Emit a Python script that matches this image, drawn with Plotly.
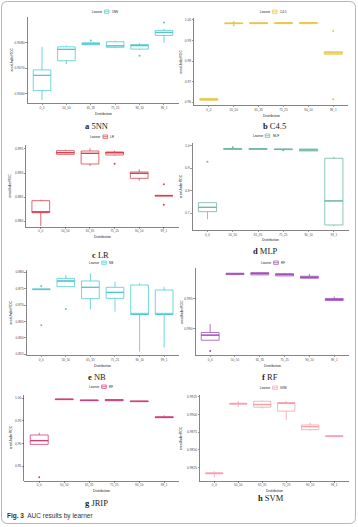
import plotly.graph_objects as go

W, H = 358, 527
CATS = ["0_0", "50_50", "65_35", "75_25", "90_10", "99_1"]

# ---------------- data (box statistics per distribution) ----------------
knn_lo  = [0.90574, 0.90716, 0.90792, 0.90778, 0.90771, 0.90800]
knn_q1  = [0.90611, 0.90729, 0.90792, 0.90782, 0.90775, 0.90829]
knn_med = [0.90671, 0.90774, 0.90796, 0.90788, 0.90789, 0.90841]
knn_q3  = [0.90693, 0.90784, 0.90800, 0.90804, 0.90793, 0.90849]
knn_hi  = [0.90784, 0.90789, 0.90800, 0.90808, 0.90799, 0.90855]
knn_out_x = ["65_35", "90_10", "99_1"]
knn_out_y = [0.90809, 0.90749, 0.90880]

c45_lo  = [0.96097, 0.99822, 0.99822, 0.99822, 0.99822, 0.98332]
c45_q1  = [0.96097, 0.99822, 0.99822, 0.99822, 0.99822, 0.98332]
c45_med = [0.96146, 0.99838, 0.99838, 0.99846, 0.99854, 0.98397]
c45_q3  = [0.96194, 0.99854, 0.99870, 0.99870, 0.99870, 0.98462]
c45_hi  = [0.96194, 0.99854, 0.99870, 0.99870, 0.99870, 0.98462]
c45_out_x = ["50_50", "50_50", "99_1", "99_1"]
c45_out_y = [0.99741, 0.99887, 0.99466, 0.96146]

lr_lo  = [0.87896, 0.89375, 0.89146, 0.89361, 0.88840, 0.88521]
lr_q1  = [0.88174, 0.89389, 0.89188, 0.89375, 0.88889, 0.88521]
lr_med = [0.88188, 0.89424, 0.89410, 0.89424, 0.88993, 0.88528]
lr_q3  = [0.88424, 0.89465, 0.89458, 0.89438, 0.89021, 0.88535]
lr_hi  = [0.88444, 0.89486, 0.89514, 0.89465, 0.89076, 0.88535]
lr_out_x = ["75_25", "99_1", "99_1"]
lr_out_y = [0.89194, 0.88764, 0.88340]

mlp_lo  = [0.6734, 0.9836, 0.9836, 0.9821, 0.9762, 0.6439]
mlp_q1  = [0.7074, 0.9836, 0.9836, 0.9821, 0.9762, 0.6483]
mlp_med = [0.7266, 0.9851, 0.9851, 0.9836, 0.9806, 0.7547]
mlp_q3  = [0.7473, 0.9866, 0.9866, 0.9851, 0.9851, 0.9437]
mlp_hi  = [0.7473, 0.9866, 0.9866, 0.9851, 0.9851, 0.9511]
mlp_out_x = ["0_0", "50_50", "75_25"]
mlp_out_y = [0.9290, 0.9925, 0.9792]

nb_lo  = [0.87472, 0.87563, 0.86872, 0.86801, 0.85581, 0.85713]
nb_q1  = [0.87472, 0.87563, 0.87197, 0.87207, 0.86720, 0.86720]
nb_med = [0.87482, 0.87736, 0.87543, 0.87390, 0.86720, 0.86720]
nb_q3  = [0.87492, 0.87817, 0.87736, 0.87543, 0.87614, 0.87461]
nb_hi  = [0.87492, 0.87919, 0.87970, 0.87715, 0.87665, 0.87563]
nb_out_x = ["0_0", "0_0", "50_50"]
nb_out_y = [0.87583, 0.86384, 0.86882]

rf_lo  = [0.98811, 0.99894, 0.99889, 0.99872, 0.99833, 0.99467]
rf_q1  = [0.98811, 0.99894, 0.99889, 0.99872, 0.99833, 0.99467]
rf_med = [0.98894, 0.99906, 0.99911, 0.99894, 0.99850, 0.99483]
rf_q3  = [0.98939, 0.99917, 0.99928, 0.99911, 0.99867, 0.99500]
rf_hi  = [0.99078, 0.99917, 0.99928, 0.99922, 0.99906, 0.99533]
rf_out_x = ["0_0"]
rf_out_y = [0.98633]

jrip_lo  = [0.89801, 0.99697, 0.99476, 0.99476, 0.99254, 0.95709]
jrip_q1  = [0.89801, 0.99697, 0.99476, 0.99476, 0.99254, 0.95709]
jrip_med = [0.90613, 0.99771, 0.99549, 0.99623, 0.99328, 0.95783]
jrip_q3  = [0.91869, 0.99845, 0.99623, 0.99697, 0.99402, 0.95931]
jrip_hi  = [0.92386, 0.99845, 0.99623, 0.99697, 0.99402, 0.96226]
jrip_out_x = ["0_0"]
jrip_out_y = [0.82489]

svm_lo  = [0.98110, 0.99110, 0.99086, 0.98923, 0.98773, 0.98689]
svm_q1  = [0.98161, 0.99147, 0.99105, 0.99049, 0.98787, 0.98689]
svm_med = [0.98166, 0.99157, 0.99143, 0.99161, 0.98829, 0.98694]
svm_q3  = [0.98175, 0.99161, 0.99189, 0.99171, 0.98853, 0.98699]
svm_hi  = [0.98199, 0.99194, 0.99199, 0.99194, 0.98886, 0.98699]
svm_out_x = []
svm_out_y = []

# ---------------- layout config per panel ----------------
panels = [
    dict(legend="5NN", letter="a", cap="5NN", color="#4FC9CF",
         stats=(knn_lo, knn_q1, knn_med, knn_q3, knn_hi), out=(knn_out_x, knn_out_y),
         xpx=(27.4, 178.6), ypx=(16.7, 103.3), yr=(0.90561, 0.90903),
         ticks=[0.906, 0.907, 0.908], fmt=".4f", capxy=(96, 126), legxy=(106.7, 11.7), ytx=11.5),
    dict(legend="C4.5", letter="b", cap="C4.5", color="#E8C547",
         stats=(c45_lo, c45_q1, c45_med, c45_q3, c45_hi), out=(c45_out_x, c45_out_y),
         xpx=(193.9, 348.2), ypx=(18.3, 105.0), yr=(0.95870, 1.00081),
         ticks=[0.96, 0.97, 0.98, 0.99, 1.00], fmt=".2f", capxy=(274, 126), legxy=(274.7, 11.7), ytx=181),
    dict(legend="LR", letter="c", cap="LR", color="#D8424C",
         stats=(lr_lo, lr_q1, lr_med, lr_q3, lr_hi), out=(lr_out_x, lr_out_y),
         xpx=(26.0, 178.6), ypx=(145.0, 226.7), yr=(0.87882, 0.89583),
         ticks=[0.880, 0.885, 0.890, 0.895], fmt=".3f", capxy=(100, 255), legxy=(105.3, 136.7), ytx=10),
    dict(legend="MLP", letter="d", cap="MLP", color="#72B8A2",
         stats=(mlp_lo, mlp_q1, mlp_med, mlp_q3, mlp_hi), out=(mlp_out_x, mlp_out_y),
         xpx=(192.3, 349.0), ypx=(143.3, 230.0), yr=(0.6261, 1.0102),
         ticks=[0.7, 0.8, 0.9, 1.0], fmt=".1f", capxy=(265.7, 250.7), legxy=(267.5, 135.7), ytx=180.7),
    dict(legend="NB", letter="e", cap="NB", color="#4FCBD3",
         stats=(nb_lo, nb_q1, nb_med, nb_q3, nb_hi), out=(nb_out_x, nb_out_y),
         xpx=(26.5, 178.9), ypx=(270.0, 355.0), yr=(0.85480, 0.88071),
         ticks=[0.855, 0.860, 0.865, 0.870, 0.875, 0.880], fmt=".3f", capxy=(96.7, 376.7), legxy=(104, 262.7), ytx=10),
    dict(legend="RF", letter="f", cap="RF", color="#A050B8",
         stats=(rf_lo, rf_q1, rf_med, rf_q3, rf_hi), out=(rf_out_x, rf_out_y),
         xpx=(195.3, 349.1), ypx=(268.3, 355.0), yr=(0.98567, 0.99998),
         ticks=[0.990, 0.995], fmt=".3f", capxy=(269.7, 377.3), legxy=(276, 262.7), ytx=181.3),
    dict(legend="RF", letter="g", cap="JRIP", color="#D63C7A",
         stats=(jrip_lo, jrip_q1, jrip_med, jrip_q3, jrip_hi), out=(jrip_out_x, jrip_out_y),
         xpx=(24.2, 179.2), ypx=(395.0, 480.7), yr=(0.8175, 1.00731),
         ticks=[0.85, 0.90, 0.95, 1.00], fmt=".2f", capxy=(96, 503.3), legxy=(104, 386.7), ytx=10.5),
    dict(legend="SVM", letter="h", cap="SVM", color="#F4A0AE",
         stats=(svm_lo, svm_q1, svm_med, svm_q3, svm_hi), out=(svm_out_x, svm_out_y),
         xpx=(199.9, 348.6), ypx=(395.0, 480.7), yr=(0.98063, 0.99278),
         ticks=[0.9825, 0.9850, 0.9875, 0.9900, 0.9925], fmt=".4f", capxy=(270.5, 498.3), legxy=(275, 387.7), ytx=181.3),
]


def X(px):
    return px / W


def Y(py):
    return 1 - py / H


fig = go.Figure()
annotations = []
shapes = []
AX = "#333333"
TXT = "#4d4d4d"
SANS = "Liberation Sans, Arial, sans-serif"
SERIF = "Liberation Serif, Times New Roman, serif"

for i, p in enumerate(panels, start=1):
    xa = "x" if i == 1 else f"x{i}"
    ya = "y" if i == 1 else f"y{i}"
    lo, q1, med, q3, hi = p["stats"]
    fig.add_trace(go.Box(
        x=CATS, q1=q1, median=med, q3=q3, lowerfence=lo, upperfence=hi,
        boxpoints=False, width=0.72, whiskerwidth=0,
        line=dict(color=p["color"], width=0.8), fillcolor="white",
        xaxis=xa, yaxis=ya, showlegend=False, hoverinfo="skip"))
    # thicker median bar (ggplot style), drawn from the same medians
    fig.add_trace(go.Box(
        x=CATS, q1=med, median=med, q3=med, lowerfence=med, upperfence=med,
        boxpoints=False, width=0.72, whiskerwidth=0,
        line=dict(color=p["color"], width=1.3), fillcolor="rgba(0,0,0,0)",
        xaxis=xa, yaxis=ya, showlegend=False, hoverinfo="skip"))
    ox, oy = p["out"]
    if ox:
        fig.add_trace(go.Scatter(
            x=ox, y=oy, mode="markers", marker=dict(color=p["color"], size=2),
            xaxis=xa, yaxis=ya, showlegend=False, hoverinfo="skip"))

    x0, x1 = p["xpx"]
    y0, y1 = p["ypx"]
    xkey = "xaxis" if i == 1 else f"xaxis{i}"
    ykey = "yaxis" if i == 1 else f"yaxis{i}"
    fig.layout[xkey] = dict(
        domain=[X(x0), X(x1)], anchor=ya, type="category",
        categoryorder="array", categoryarray=CATS, range=[-0.6, 5.6],
        showline=True, linecolor=AX, linewidth=0.6, showgrid=False, zeroline=False,
        ticks="outside", ticklen=1.5, tickwidth=0.5, tickcolor=AX,
        tickfont=dict(family=SANS, size=3, color=TXT), fixedrange=True)
    fig.layout[ykey] = dict(
        domain=[Y(y1), Y(y0)], anchor=xa, range=list(p["yr"]),
        tickvals=p["ticks"], tickformat=p["fmt"],
        showline=True, linecolor=AX, linewidth=0.6, showgrid=False, zeroline=False,
        ticks="outside", ticklen=1.5, tickwidth=0.5, tickcolor=AX,
        tickfont=dict(family=SANS, size=3.3, color=TXT), fixedrange=True)

    # axis titles
    annotations.append(dict(
        x=X((x0 + x1) / 2), y=Y(y1 + 10.5), xref="paper", yref="paper",
        text="Distribution", showarrow=False, xanchor="center", yanchor="middle",
        font=dict(family=SANS, size=3.4, color="#222")))
    annotations.append(dict(
        x=X(p["ytx"]), y=Y((y0 + y1) / 2), xref="paper", yref="paper",
        text="areaUnderROC", showarrow=False, textangle=-90, xanchor="center", yanchor="middle",
        font=dict(family=SANS, size=3.4, color="#222")))

    # caption under the panel
    cx, cy = p["capxy"]
    annotations.append(dict(
        x=X(cx), y=Y(cy), xref="paper", yref="paper",
        text=f"<b>{p['letter']}</b> {p['cap']}", showarrow=False,
        xanchor="center", yanchor="middle",
        font=dict(family=SERIF, size=8.5, color="#222")))

    # legend (Learner [box] name)
    lx, ly = p["legxy"]
    annotations.append(dict(
        x=X(lx - 3), y=Y(ly), xref="paper", yref="paper", text="Learner",
        showarrow=False, xanchor="right", yanchor="middle",
        font=dict(family=SANS, size=3, color="#222")))
    annotations.append(dict(
        x=X(lx + 3), y=Y(ly), xref="paper", yref="paper", text=p["legend"],
        showarrow=False, xanchor="left", yanchor="middle",
        font=dict(family=SANS, size=3, color="#222")))
    shapes.append(dict(
        type="rect", xref="paper", yref="paper",
        x0=X(lx - 2.3), x1=X(lx + 2.3), y0=Y(ly + 1.7), y1=Y(ly - 1.7),
        line=dict(color=p["color"], width=0.7), fillcolor="white"))
    shapes.append(dict(
        type="line", xref="paper", yref="paper",
        x0=X(lx - 2.3), x1=X(lx + 2.3), y0=Y(ly), y1=Y(ly),
        line=dict(color=p["color"], width=0.7)))

# figure caption
annotations.append(dict(
    x=X(5), y=Y(516), xref="paper", yref="paper",
    text="<b>Fig. 3</b>  AUC results by learner", showarrow=False,
    xanchor="left", yanchor="middle",
    font=dict(family=SANS, size=6.5, color="#333")))

# outer rounded frame
r = 6
fx0, fx1, fy0, fy1 = 1.5, 355.5, 1.5, 523.5
path = (f"M {X(fx0 + r)} {Y(fy0)} L {X(fx1 - r)} {Y(fy0)} "
        f"Q {X(fx1)} {Y(fy0)} {X(fx1)} {Y(fy0 + r)} "
        f"L {X(fx1)} {Y(fy1 - r)} Q {X(fx1)} {Y(fy1)} {X(fx1 - r)} {Y(fy1)} "
        f"L {X(fx0 + r)} {Y(fy1)} Q {X(fx0)} {Y(fy1)} {X(fx0)} {Y(fy1 - r)} "
        f"L {X(fx0)} {Y(fy0 + r)} Q {X(fx0)} {Y(fy0)} {X(fx0 + r)} {Y(fy0)} Z")
shapes.append(dict(type="path", xref="paper", yref="paper", path=path,
                   line=dict(color="#b5b5b5", width=1)))

fig.update_layout(
    width=W, height=H, margin=dict(l=0, r=0, t=0, b=0),
    paper_bgcolor="white", plot_bgcolor="white",
    showlegend=False, annotations=annotations, shapes=shapes,
    hovermode=False)

fig.write_html("out.html", config=dict(displayModeBar=False, staticPlot=True))
